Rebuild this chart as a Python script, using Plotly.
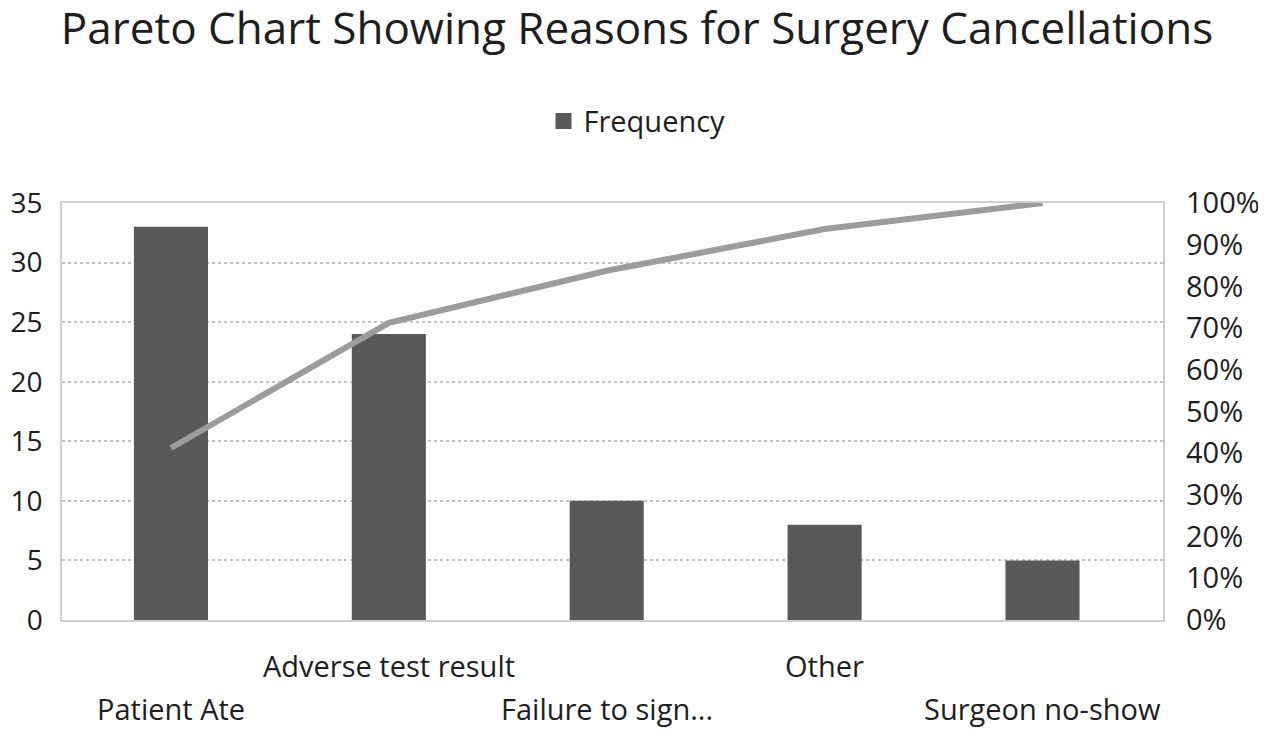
import plotly.graph_objects as go
import numpy as np

categories = ["Patient Ate", "Adverse test result", "Failure to sign...", "Other", "Surgeon no-show"]
frequency = [33, 24, 10, 8, 5]
cumulative_pct = list(np.cumsum(frequency) / np.sum(frequency))
left_ticks = [0, 5, 10, 15, 20, 25, 30, 35]
right_ticks = [0, 0.1, 0.2, 0.3, 0.4, 0.5, 0.6, 0.7, 0.8, 0.9, 1.0]

FONT = "Open Sans"
TXT = "#1e1e1e"
FS = 29

fig = go.Figure()
fig.add_trace(go.Bar(
    x=categories, y=frequency, name="Frequency",
    marker=dict(color="#595959", line=dict(width=0)),
    width=0.34, showlegend=False,
))
fig.add_trace(go.Scatter(
    x=categories, y=cumulative_pct, name="Cumulative %",
    mode="lines", line=dict(color="#9c9c9c", width=6),
    yaxis="y2", showlegend=False,
))
# legend entry with a larger square swatch
fig.add_trace(go.Scatter(
    x=[None], y=[None], name="Frequency", mode="markers",
    marker=dict(symbol="square", size=26, color="#595959"),
    showlegend=True,
))

# staggered category labels
for i, c in enumerate(categories):
    fig.add_annotation(
        x=c, xref="x", y=0, yref="paper",
        yshift=-45 if i % 2 == 1 else -88,
        yanchor="middle", text=c, showarrow=False,
        font=dict(family=FONT, size=FS, color=TXT),
    )

fig.update_layout(
    width=1258, height=721,
    margin=dict(l=54, r=103, t=195, b=109, autoexpand=False),
    paper_bgcolor="white", plot_bgcolor="white",
    title=dict(text="Pareto Chart Showing Reasons for Surgery Cancellations",
               x=0.5, xanchor="center", y=0.972, yanchor="middle",
               font=dict(family=FONT, size=44, color=TXT)),
    legend=dict(orientation="h", xref="container", x=0.5, xanchor="center",
                y=1.196, yanchor="middle", itemsizing="trace",
                font=dict(family=FONT, size=FS, color=TXT)),
    xaxis=dict(showticklabels=False, showline=True, mirror=True,
               linecolor="#d0d0d0", linewidth=1.5, showgrid=False,
               automargin=False),
    yaxis=dict(range=[0, 35], tickvals=left_ticks, showgrid=True,
               gridcolor="#c4c4c4", griddash="dot", gridwidth=1.5,
               showline=True, linecolor="#d0d0d0", linewidth=1.5, mirror=True,
               zeroline=False, ticklabelstandoff=12, automargin=False,
               tickfont=dict(family=FONT, size=28, color=TXT)),
    yaxis2=dict(range=[0, 1], tickvals=right_ticks, tickformat=".0%",
                overlaying="y", side="right", showgrid=False, zeroline=False,
                ticklabelstandoff=22, automargin=False,
                tickfont=dict(family=FONT, size=FS, color=TXT)),
    bargap=0.66,
)

fig.write_html("out.html")
